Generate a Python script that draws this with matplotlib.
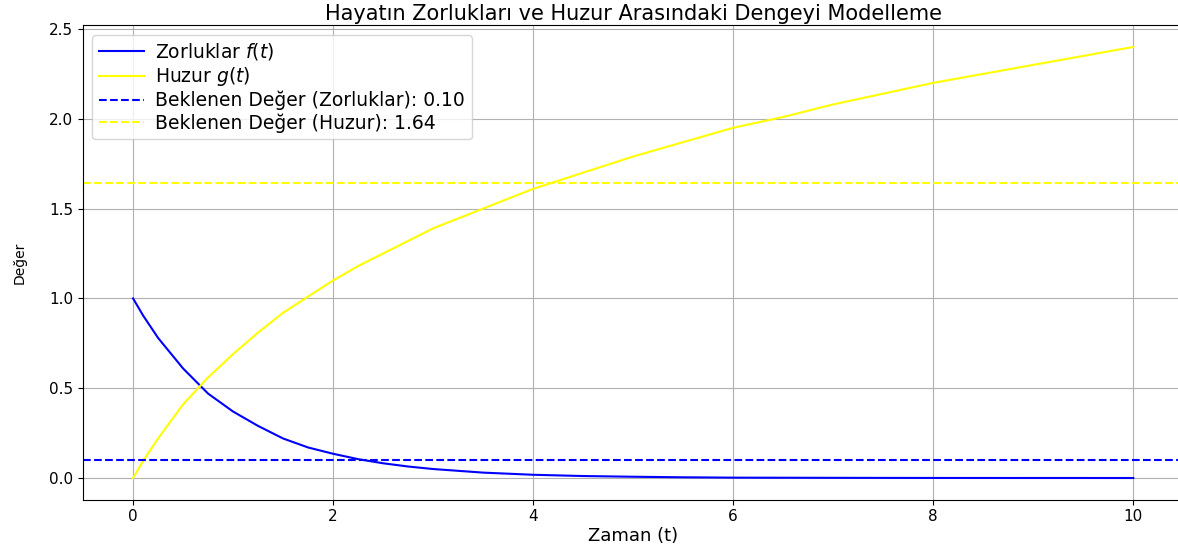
import numpy as np
import matplotlib
matplotlib.use("Agg")
from matplotlib import pyplot as plt

# time samples
t = [0, 0.1, 0.25, 0.5, 0.75, 1, 1.25, 1.5, 1.75, 2, 2.25, 2.5, 2.75, 3,
     3.5, 4, 4.5, 5, 5.5, 6, 6.5, 7, 7.5, 8, 8.5, 9, 9.5, 10]
# Zorluklar f(t)
zorluklar = [1.0, 0.905, 0.78, 0.61, 0.47, 0.37, 0.29, 0.22, 0.17, 0.135,
             0.105, 0.082, 0.064, 0.05, 0.03, 0.018, 0.011, 0.007, 0.004,
             0.002, 0.0015, 0.001, 0.0006, 0.0003, 0.0002, 0.0001, 0.0001,
             0.0]
# Huzur g(t)
huzur = [0.0, 0.095, 0.22, 0.41, 0.56, 0.69, 0.81, 0.92, 1.01, 1.10, 1.18,
         1.25, 1.32, 1.39, 1.50, 1.61, 1.70, 1.79, 1.87, 1.95, 2.01, 2.08,
         2.14, 2.20, 2.25, 2.30, 2.35, 2.40]
beklenen_zorluk = 0.10
beklenen_huzur = 1.64

fig = plt.figure(figsize=(11.78, 5.52), dpi=100)
ax = fig.add_axes([0.0705, 0.095, 0.934, 0.859])

ax.plot(t, zorluklar, color='blue', label='Zorluklar $f(t)$')
ax.plot(t, huzur, color='yellow', label='Huzur $g(t)$')
ax.axhline(beklenen_zorluk, color='blue', linestyle='--',
           label=f'Beklenen Değer (Zorluklar): {beklenen_zorluk:.2f}')
ax.axhline(beklenen_huzur, color='yellow', linestyle='--',
           label=f'Beklenen Değer (Huzur): {beklenen_huzur:.2f}')

ax.set_title('Hayatın Zorlukları ve Huzur Arasındaki Dengeyi Modelleme',
             fontsize=15, pad=4)
ax.set_xlabel('Zaman (t)', fontsize=13, labelpad=2)
ax.set_ylabel('Değer', fontsize=10, labelpad=16)
ax.tick_params(labelsize=11)
# legend text is wide in the reference, so bigger font + tight spacing
ax.legend(loc='upper left', fontsize=13.5, labelspacing=0.15,
          handlelength=2.4, handletextpad=0.6, borderpad=0.35)
ax.grid(True)

fig.savefig('out.png', dpi=100)
